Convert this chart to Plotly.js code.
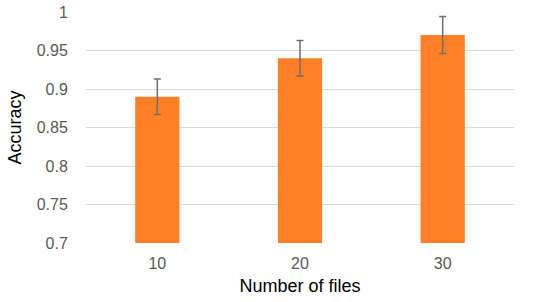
<!DOCTYPE html>
<html>
<head>
<meta charset="utf-8">
<script src="https://cdn.plot.ly/plotly-3.0.1.min.js"></script>
<style>
  html, body { margin: 0; padding: 0; background: #fff; }
  #chart { width: 550px; height: 302px; }
</style>
</head>
<body>
<div id="chart"></div>
<script>
const categories = ['10', '20', '30'];
const accuracy = [0.89, 0.94, 0.97];
const errors = [0.023, 0.023, 0.024];
const yTicks = [0.7, 0.75, 0.8, 0.85, 0.9, 0.95, 1];
const yTickLabels = ['0.7', '0.75', '0.8', '0.85', '0.9', '0.95', '1'];

const font = 'Liberation Sans, Arial, sans-serif';

const traceAccuracy = {
    x: categories,
    y: accuracy,
    type: 'bar',
    width: 0.31,
    marker: { color: '#FF7F27' },
    error_y: {
        type: 'data',
        array: errors,
        visible: true,
        color: '#6f6f6f',
        thickness: 1.5,
        width: 3.5
    },
    hoverinfo: 'none'
};

const layout = {
    width: 550,
    height: 302,
    margin: { l: 86, r: 36, t: 12, b: 59 },
    paper_bgcolor: '#fff',
    plot_bgcolor: '#fff',
    showlegend: false,
    font: { family: font, color: '#595959', size: 16 },
    xaxis: {
        type: 'category',
        range: [-0.5, 2.5],
        showgrid: false,
        zeroline: false,
        showline: false,
        ticks: 'outside',
        ticklen: 6,
        tickcolor: 'rgba(0,0,0,0)',
        tickfont: { family: font, size: 16, color: '#595959' },
        title: { text: 'Number of files', font: { family: font, size: 18, color: '#000' }, standoff: 8 }
    },
    yaxis: {
        range: [0.7, 1],
        tickvals: yTicks,
        ticktext: yTickLabels,
        showgrid: true,
        gridcolor: '#d9d9d9',
        gridwidth: 1,
        zeroline: false,
        showline: false,
        ticks: 'outside',
        ticklen: 14,
        tickcolor: 'rgba(0,0,0,0)',
        tickfont: { family: font, size: 16, color: '#595959' },
        title: { text: 'Accuracy', font: { family: font, size: 18, color: '#000' }, standoff: 10 }
    }
};

Plotly.newPlot('chart', [traceAccuracy], layout, { displayModeBar: false, staticPlot: true });
</script>
</body>
</html>
